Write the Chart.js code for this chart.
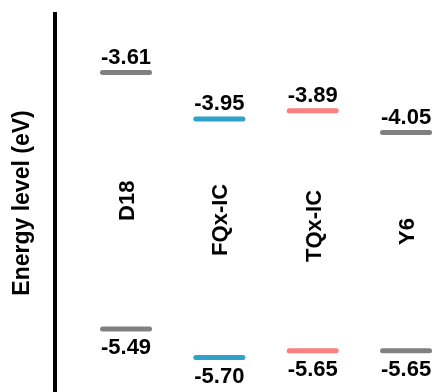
<!DOCTYPE html>
<html>
<head>
<meta charset="utf-8">
<script src="https://cdn.jsdelivr.net/npm/chart.js@4/dist/chart.umd.min.js"></script>
<style>
  html, body { margin: 0; padding: 0; background: #fff; }
  #wrap { width: 436px; height: 392px; }
</style>
</head>
<body>
<div id="wrap"><canvas id="c"></canvas></div>
<script>
// Frontier orbital energies (eV) for the donor and the acceptors
const molecules = ['D18', 'FQx-IC', 'TQx-IC', 'Y6'];
const lumo = [-3.61, -3.95, -3.89, -4.05];
const homo = [-5.49, -5.70, -5.65, -5.65];
const levelColors = ['#808080', '#2ea2c9', '#fb7f7f', '#808080'];

// Layout: where each molecule name sits on the energy axis, level bar half-width
const nameCenters = [-4.55, -4.69, -4.735, -4.775];
const barHalf = 0.252;
const FONT = "'Liberation Sans', Arial, Helvetica, sans-serif";

const datasets = [];
molecules.forEach((m, i) => {
  [lumo[i], homo[i]].forEach(v => {
    datasets.push({
      type: 'line',
      data: [{ x: i - barHalf, y: v }, { x: i + barHalf, y: v }],
      borderColor: levelColors[i],
      borderWidth: 5,
      borderCapStyle: 'round',
      pointRadius: 0,
      fill: false
    });
  });
});

const levelLabels = {
  id: 'levelLabels',
  afterDatasetsDraw(chart) {
    const { ctx, scales: { x, y } } = chart;
    ctx.save();
    ctx.fillStyle = '#000';
    ctx.font = `bold 22px ${FONT}`;
    ctx.textAlign = 'center';
    ctx.textBaseline = 'alphabetic';
    molecules.forEach((m, i) => {
      const cx = x.getPixelForValue(i);
      ctx.fillText(lumo[i].toFixed(2), cx, y.getPixelForValue(lumo[i]) - 8.5);
      ctx.fillText(homo[i].toFixed(2), cx, y.getPixelForValue(homo[i]) + 25.5);
    });
    // molecule names, rotated
    ctx.textBaseline = 'middle';
    molecules.forEach((m, i) => {
      ctx.save();
      ctx.translate(x.getPixelForValue(i) + 2, y.getPixelForValue(nameCenters[i]));
      ctx.rotate(-Math.PI / 2);
      ctx.fillText(m, 0, 0);
      ctx.restore();
    });
    ctx.restore();
  }
};

new Chart(document.getElementById('c'), {
  type: 'line',
  data: { datasets },
  options: {
    responsive: true,
    maintainAspectRatio: false,
    animation: false,
    layout: { padding: { top: 14, right: 0, bottom: 0, left: 0 } },
    plugins: { legend: { display: false }, tooltip: { enabled: false } },
    scales: {
      x: { type: 'linear', display: false, min: -0.761, max: 3.321 },
      y: {
        type: 'linear',
        min: -5.952,
        max: -3.181,
        grid: { display: false },
        ticks: { display: false },
        border: { display: true, color: '#000', width: 4 },
        title: {
          display: true,
          text: 'Energy level (eV)',
          color: '#000',
          font: { family: FONT, size: 23, weight: 'bold' },
          padding: { top: 9, bottom: 0 }
        },
        afterFit(scale) { scale.width = 55; }
      }
    }
  },
  plugins: [levelLabels]
});
</script>
</body>
</html>
